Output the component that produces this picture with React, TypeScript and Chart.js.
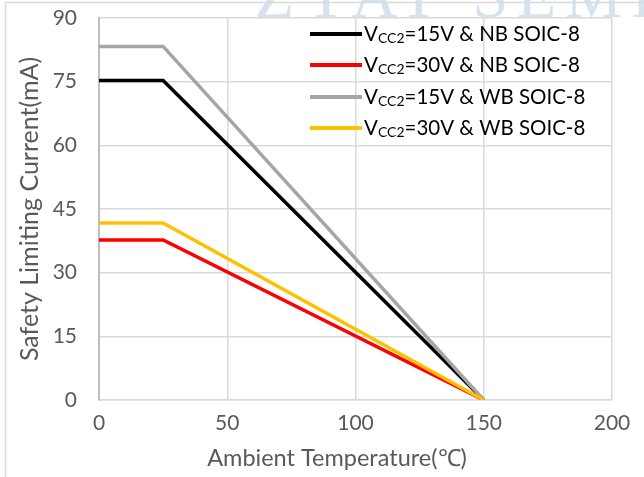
import React, { useEffect, useRef } from "react";
import { Chart, registerables } from "chart.js";

Chart.register(...registerables);

const temps = [0, 25, 150];
const nb15 = [75.3, 75.3, 0];
const nb30 = [37.7, 37.7, 0];
const wb15 = [83.3, 83.3, 0];
const wb30 = [41.7, 41.7, 0];

const seriesNames = [
  ["V", "CC2", "=15V & NB SOIC-8"],
  ["V", "CC2", "=30V & NB SOIC-8"],
  ["V", "CC2", "=15V & WB SOIC-8"],
  ["V", "CC2", "=30V & WB SOIC-8"],
];
const seriesValues = [nb15, nb30, wb15, wb30];
const seriesColors = ["#000000", "#ff0000", "#a5a5a5", "#ffc000"];

const xTicks = [0, 50, 100, 150, 200];
const yTicks = [0, 15, 30, 45, 60, 75, 90];

const xTitle = "Ambient Temperature(\u2103)";
const yTitle = "Safety Limiting Current(mA)";
const watermark = "ZYAT SEMICONDUCTOR";

const FONT = "Lato, 'Open Sans', sans-serif";

const framePlugin = {
  id: "frame",
  beforeDraw(chart: any) {
    const ctx = chart.ctx;
    ctx.save();
    ctx.fillStyle = "#ffffff";
    ctx.fillRect(0, 0, chart.width, chart.height);
    ctx.font = "64px 'Liberation Serif', serif";
    (ctx as any).letterSpacing = "9px";
    ctx.fillStyle = "#d6e3ee";
    ctx.textBaseline = "alphabetic";
    ctx.textAlign = "left";
    ctx.fillText(watermark, 255, 17);
    (ctx as any).letterSpacing = "0px";
    ctx.strokeStyle = "#d9d9d9";
    ctx.lineWidth = 1.5;
    ctx.beginPath();
    ctx.moveTo(5.5, chart.height);
    ctx.lineTo(5.5, 2.5);
    ctx.lineTo(chart.width, 2.5);
    ctx.stroke();
    ctx.restore();
  },
  afterDraw(chart: any) {
    const ctx = chart.ctx;
    ctx.save();
    ctx.font = `23.5px ${FONT}`;
    ctx.fillStyle = "#595959";
    ctx.textAlign = "center";
    ctx.textBaseline = "middle";
    ctx.fillText(xTitle, 337, 458);
    ctx.restore();
  },
};

const legendPlugin = {
  id: "customLegend",
  afterDatasetsDraw(chart: any) {
    const ctx = chart.ctx;
    ctx.save();
    const rows = [34, 65, 97, 128];
    chart.data.datasets.forEach((ds: any, i: number) => {
      const y = rows[i];
      ctx.strokeStyle = ds.borderColor;
      ctx.lineWidth = 4;
      ctx.beginPath();
      ctx.moveTo(310, y);
      ctx.lineTo(362, y);
      ctx.stroke();
      const parts = seriesNames[i];
      ctx.fillStyle = "#000000";
      ctx.textBaseline = "alphabetic";
      ctx.textAlign = "left";
      let x = 364;
      const base = y + 7;
      ctx.font = `20.5px ${FONT}`;
      ctx.fillText(parts[0], x, base);
      x += ctx.measureText(parts[0]).width;
      ctx.font = `14px ${FONT}`;
      ctx.fillText(parts[1], x, base + 2);
      x += ctx.measureText(parts[1]).width;
      ctx.font = `20.5px ${FONT}`;
      ctx.fillText(parts[2], x, base);
    });
    ctx.restore();
  },
};

export default function App() {
  const ref = useRef<HTMLCanvasElement>(null);
  useEffect(() => {
    if (!ref.current) return;
    const chart = new Chart(ref.current, {
      type: "line",
      data: {
        datasets: seriesValues.map((vals, i) => ({
          label: seriesNames[i].join(""),
          data: temps.map((t, j) => ({ x: t, y: vals[j] })),
          borderColor: seriesColors[i],
          backgroundColor: seriesColors[i],
          borderWidth: 3.5,
          pointRadius: 0,
          tension: 0,
          order: 4 - i,
        })),
      },
      options: {
        animation: false,
        responsive: false,
        maintainAspectRatio: false,
        layout: { padding: { left: 0, right: 32, top: 18, bottom: 0 } },
        plugins: { legend: { display: false }, tooltip: { enabled: false } },
        scales: {
          x: {
            type: "linear",
            min: 0,
            max: 200,
            afterBuildTicks: (s: any) => {
              s.ticks = xTicks.map((v) => ({ value: v }));
            },
            afterFit: (s: any) => {
              s.height = 77;
              s.paddingLeft = 0;
              s.paddingRight = 0;
            },
            ticks: {
              color: "#595959",
              font: { family: FONT, size: 21 },
              padding: 11,
              maxRotation: 0,
            },
            grid: { color: "#d9d9d9", lineWidth: 1.5, drawTicks: false },
            border: { color: "#d9d9d9", width: 1.5 },
            title: { display: false, text: xTitle },
          },
          y: {
            type: "linear",
            min: 0,
            max: 90,
            afterBuildTicks: (s: any) => {
              s.ticks = yTicks.map((v) => ({ value: v }));
            },
            afterFit: (s: any) => {
              s.width = 99;
              s.paddingTop = 0;
              s.paddingBottom = 0;
            },
            ticks: {
              color: "#595959",
              font: { family: FONT, size: 21 },
              padding: 22,
            },
            grid: { color: "#d9d9d9", lineWidth: 1.5, drawTicks: false },
            border: { color: "#bfbfbf", width: 2 },
            title: {
              display: true,
              text: yTitle,
              color: "#595959",
              font: { family: FONT, size: 25 },
              padding: { top: 15, bottom: 0 },
            },
          },
        },
      },
      plugins: [framePlugin, legendPlugin],
    });
    return () => chart.destroy();
  }, []);
  return (
    <div style={{ position: "fixed", left: 0, top: 0, width: 644, height: 477, background: "#fff" }}>
      <canvas ref={ref} width={644} height={477} style={{ width: 644, height: 477 }} />
    </div>
  );
}
